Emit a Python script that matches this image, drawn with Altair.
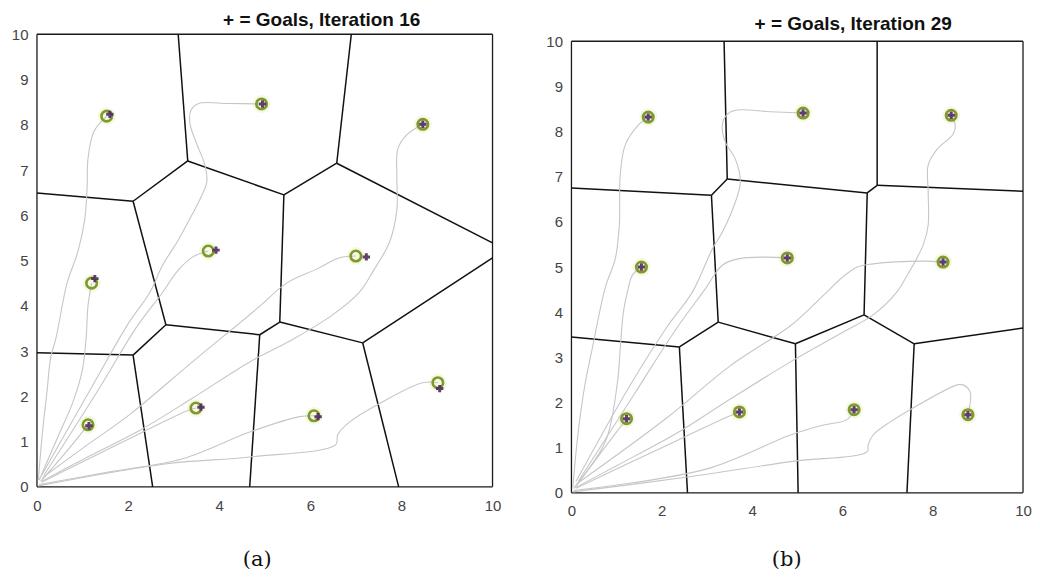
import altair as alt
import pandas as pd

# ---------------- Panel (a): Iteration 16 ----------------
A_TITLE = "+ = Goals, Iteration 16"
A_EDGES = [  # x1, y1, x2, y2  (Voronoi cell boundaries)
    (3.10, 10.0, 3.31, 7.20), (6.90, 10.0, 6.58, 7.15), (3.31, 7.20, 5.42, 6.45),
    (6.58, 7.15, 5.42, 6.45), (6.58, 7.15, 10.0, 5.39), (3.31, 7.20, 2.11, 6.31),
    (2.11, 6.31, 0.0, 6.49), (2.11, 6.31, 2.83, 3.58), (5.42, 6.45, 5.33, 3.64),
    (10.0, 5.06, 7.15, 3.18), (5.33, 3.64, 7.15, 3.18), (2.83, 3.58, 4.89, 3.36),
    (4.89, 3.36, 5.33, 3.64), (4.89, 3.36, 4.67, 0.0), (2.83, 3.58, 2.11, 2.91),
    (2.11, 2.91, 0.0, 2.96), (2.11, 2.91, 2.54, 0.0), (7.15, 3.18, 7.94, 0.0),
]
A_ROBOT_X = [1.53, 4.93, 8.47, 3.76, 7.00, 1.20, 1.12, 3.49, 6.08, 8.80]
A_ROBOT_Y = [8.19, 8.46, 8.01, 5.21, 5.10, 4.50, 1.37, 1.74, 1.57, 2.30]
A_GOAL_X = [1.60, 4.95, 8.47, 3.93, 7.23, 1.27, 1.14, 3.60, 6.17, 8.84]
A_GOAL_Y = [8.23, 8.46, 8.01, 5.23, 5.08, 4.60, 1.35, 1.76, 1.55, 2.17]
A_PATHS = [
    [(0.03, 0.15), (0.12, 1.2), (0.22, 2.1), (0.30, 2.85), (0.42, 3.3), (0.66, 4.5), (0.90, 5.2),
     (1.05, 5.92), (1.10, 6.6), (1.12, 7.25), (1.25, 7.85), (1.53, 8.19)],
    [(0.10, 0.25), (1.20, 2.2), (2.00, 3.6), (2.48, 4.3), (2.76, 4.9), (3.10, 5.45), (3.36, 5.93),
     (3.60, 6.4), (3.73, 6.75), (3.68, 7.13), (3.51, 7.57), (3.36, 8.02), (3.38, 8.32), (3.55, 8.47),
     (4.20, 8.47), (4.93, 8.46)],
    [(0.10, 0.12), (1.00, 0.6), (2.26, 1.25), (3.40, 1.95), (4.67, 2.76), (5.60, 3.25), (6.49, 3.80),
     (7.08, 4.3), (7.37, 4.75), (7.74, 5.41), (7.90, 6.12), (7.90, 6.87), (7.92, 7.46), (8.11, 7.77),
     (8.47, 8.01)],
    [(0.15, 0.25), (1.35, 2.15), (2.20, 3.55), (2.76, 4.3), (3.07, 4.75), (3.42, 5.08), (3.76, 5.21)],
    [(0.12, 0.2), (1.00, 0.85), (2.04, 1.6), (3.40, 2.75), (4.82, 3.93), (5.48, 4.5), (6.14, 4.81),
     (6.64, 5.06), (7.00, 5.10)],
    [(0.05, 0.15), (0.50, 1.2), (0.80, 1.9), (1.00, 2.6), (1.08, 3.3), (1.12, 4.0), (1.20, 4.5)],
    [(0.08, 0.12), (0.60, 0.72), (1.12, 1.37)],
    [(0.10, 0.10), (1.80, 0.95), (3.30, 1.68), (3.49, 1.74)],
    [(0.05, 0.05), (1.60, 0.33), (3.20, 0.62), (4.67, 1.21), (5.77, 1.55), (6.08, 1.57)],
    [(0.03, 0.02), (2.85, 0.51), (4.67, 0.66), (6.56, 0.93), (6.60, 1.15), (6.86, 1.43), (7.59, 1.88),
     (8.46, 2.30), (8.80, 2.30)],
]

# ---------------- Panel (b): Iteration 29 ----------------
B_TITLE = "+ = Goals, Iteration 29"
B_EDGES = [
    (3.38, 10.0, 3.45, 6.95), (3.45, 6.95, 3.10, 6.59), (3.10, 6.59, 0.0, 6.75),
    (3.45, 6.95, 6.55, 6.64), (6.77, 10.0, 6.77, 6.81), (6.77, 6.81, 6.55, 6.64),
    (6.77, 6.81, 10.0, 6.68), (3.10, 6.59, 3.25, 3.78), (3.25, 3.78, 2.39, 3.23),
    (2.39, 3.23, 0.0, 3.45), (2.39, 3.23, 2.57, 0.0), (3.25, 3.78, 4.96, 3.30),
    (4.96, 3.30, 5.02, 0.0), (4.96, 3.30, 6.48, 3.94), (6.48, 3.94, 6.55, 6.64),
    (6.48, 3.94, 7.59, 3.30), (7.59, 3.30, 10.0, 3.65), (7.59, 3.30, 7.43, 0.0),
]
B_ROBOT_X = [1.70, 5.13, 8.41, 4.78, 8.23, 1.55, 1.22, 3.72, 6.26, 8.78]
B_ROBOT_Y = [8.32, 8.41, 8.36, 5.20, 5.11, 5.00, 1.64, 1.79, 1.84, 1.73]
B_GOAL_X = B_ROBOT_X
B_GOAL_Y = B_ROBOT_Y
B_PATHS = [
    [(0.03, 0.12), (0.15, 1.35), (0.30, 2.4), (0.46, 3.19), (0.75, 4.55), (0.97, 5.18), (1.06, 5.93),
     (1.08, 7.04), (1.19, 7.7), (1.48, 8.14), (1.70, 8.32)],
    [(0.10, 0.25), (1.25, 2.3), (2.10, 3.65), (2.68, 4.45), (3.12, 5.4), (3.34, 5.77), (3.63, 6.44),
     (3.74, 6.88), (3.63, 7.39), (3.41, 7.76), (3.34, 8.14), (3.43, 8.36), (3.63, 8.47), (4.40, 8.44),
     (5.13, 8.41)],
    [(0.10, 0.12), (1.00, 0.6), (2.30, 1.3), (3.40, 2.0), (4.85, 2.90), (6.00, 3.55), (6.68, 3.94),
     (7.21, 4.45), (7.35, 4.67), (7.79, 5.49), (7.90, 5.93), (7.90, 6.66), (7.90, 7.26), (8.10, 7.61),
     (8.45, 7.94), (8.50, 8.14), (8.41, 8.36)],
    [(0.15, 0.25), (1.40, 2.2), (2.30, 3.6), (2.96, 4.51), (3.34, 5.04), (3.69, 5.18), (4.29, 5.22),
     (4.78, 5.20)],
    [(0.12, 0.2), (2.10, 1.65), (3.50, 2.8), (4.85, 3.70), (5.30, 4.1), (5.66, 4.45), (5.95, 4.73),
     (6.33, 5.0), (6.68, 5.07), (7.79, 5.13), (8.23, 5.11)],
    [(0.05, 0.10), (0.75, 1.13), (1.02, 2.46), (1.08, 3.19), (1.15, 4.0), (1.24, 4.45), (1.35, 4.82),
     (1.55, 5.00)],
    [(0.08, 0.12), (0.70, 0.95), (1.22, 1.64)],
    [(0.10, 0.10), (2.00, 1.00), (3.50, 1.70), (3.72, 1.79)],
    [(0.05, 0.05), (3.00, 0.53), (4.85, 1.28), (5.58, 1.50), (6.10, 1.62), (6.26, 1.84)],
    [(0.03, 0.02), (2.57, 0.35), (4.85, 0.69), (6.55, 0.91), (6.57, 1.06), (6.68, 1.28), (7.06, 1.57),
     (7.50, 1.84), (8.54, 2.39), (8.67, 2.39), (8.83, 2.23), (8.78, 1.73)],
]

# axis box (data corners of the plotting area)
FRAME = [(0, 0, 10, 0), (0, 10, 10, 10), (0, 0, 0, 10), (10, 0, 10, 10)]

X_TICKS = [0, 2, 4, 6, 8, 10]
Y_TICKS = list(range(11))

LABEL_FONT = "Liberation Sans"


def panel(title, edges, rx, ry, gx, gy, paths, caption, w, h, yrange, cap_x, cap_y, xpad):
    edges_df = pd.DataFrame(edges, columns=["x", "y", "x2", "y2"])
    frame_df = pd.DataFrame(FRAME, columns=["x", "y", "x2", "y2"])
    rob_df = pd.DataFrame({"x": rx, "y": ry})
    goal_df = pd.DataFrame({"x": gx, "y": gy})
    rows = []
    for i, p in enumerate(paths):
        for j, (px, py) in enumerate(p):
            rows.append({"robot": i, "order": j, "x": px, "y": py})
    path_df = pd.DataFrame(rows)

    xs = alt.Scale(domain=[0, 10], nice=False, zero=False)
    ys = alt.Scale(domain=[0, 10], nice=False, zero=False, range=yrange)
    xax = alt.Axis(values=X_TICKS, title=caption, grid=False, ticks=False, tickSize=0, domain=False,
                   labelFont=LABEL_FONT, labelFontSize=15, labelColor="#444444", labelPadding=xpad,
                   titleFont="DejaVu Serif", titleFontSize=21, titleFontWeight="normal",
                   titleColor="#111111", titleX=cap_x, titleY=cap_y, titleBaseline="top",
                   titleAlign="center", labelFlush=False)
    yax = alt.Axis(values=Y_TICKS, title=None, grid=False, ticks=False, tickSize=0, domain=False,
                   labelFont=LABEL_FONT, labelFontSize=15, labelColor="#444444", labelPadding=9,
                   labelFlush=False)

    X = alt.X("x:Q", scale=xs, axis=xax)
    Y = alt.Y("y:Q", scale=ys, axis=yax)

    halo = alt.Chart(rob_df).mark_point(shape="circle", filled=True, color="#eef3c6",
                                        opacity=0.55, size=320).encode(x=X, y=Y)
    frame = alt.Chart(frame_df).mark_rule(color="#1a1a1a", strokeWidth=1.3).encode(
        x=X, y=Y, x2="x2:Q", y2="y2:Q")
    cells = alt.Chart(edges_df).mark_rule(color="#111111", strokeWidth=1.5).encode(
        x=X, y=Y, x2="x2:Q", y2="y2:Q")
    lines = alt.Chart(path_df).mark_line(color="#c6c6c6", strokeWidth=1.1,
                                         interpolate="catmull-rom").encode(
        x=X, y=Y, detail="robot:N", order="order:Q")
    rings = alt.Chart(rob_df).mark_point(shape="circle", filled=False, color="#7c9a30",
                                         strokeWidth=2.6, size=110, opacity=1).encode(x=X, y=Y)
    plus = alt.Chart(goal_df).mark_point(shape="cross", filled=True, color="#512a5e",
                                         size=55, opacity=0.9).encode(x=X, y=Y)
    return alt.layer(halo, frame, cells, lines, rings, plus).properties(
        width=w, height=h, title=title)


pa = panel(alt.Title(A_TITLE, font=LABEL_FONT, fontSize=19, fontWeight="bold", color="#111111",
                     anchor="middle", dx=57, offset=-3),
           A_EDGES, A_ROBOT_X, A_ROBOT_Y, A_GOAL_X, A_GOAL_Y, A_PATHS, "(a)",
           456, 453, [453, 0], 220, 62, 12)
pb = panel(alt.Title(B_TITLE, font=LABEL_FONT, fontSize=19, fontWeight="bold", color="#111111",
                     anchor="middle", dx=56, dy=-3, offset=-3),
           B_EDGES, B_ROBOT_X, B_ROBOT_Y, B_GOAL_X, B_GOAL_Y, B_PATHS, "(b)",
           452, 459, [459, 7], 215, 56, 11)

chart = alt.hconcat(pa, pb, spacing=44).properties(
    padding={"left": 3, "top": 3, "right": 0, "bottom": 0},
    background="white",
).configure_view(stroke=None)

chart.save("out.html", embed_options={"renderer": "svg", "actions": False})
